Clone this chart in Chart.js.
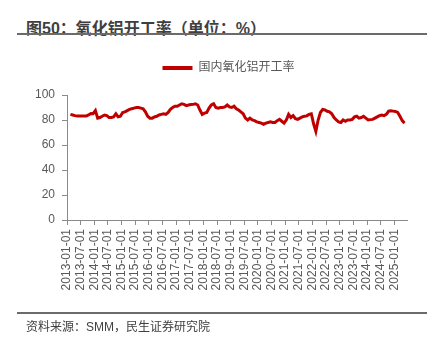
<!DOCTYPE html>
<html lang="zh-CN">
<head>
  <meta charset="UTF-8">
  <title>氧化铝开工率</title>
  <script src="https://cdn.jsdelivr.net/npm/chart.js"></script>
  <style>
    body { margin: 0; width: 441px; height: 346px; position: relative; background: #fff; overflow: hidden;
           font-family: "Liberation Sans", "Noto Sans CJK SC", sans-serif; }
    #title { position: absolute; left: 26px; top: 15px; font-size: 16px; font-weight: bold; color: #3f3f3f; white-space: nowrap; }
    .rule { position: absolute; left: 17px; width: 410px; height: 2px; background: #6b6b6b; }
    #source { position: absolute; left: 26px; top: 317px; font-size: 12px; color: #404040; white-space: nowrap; }
    canvas { position: absolute; left: 0; top: 0; }
  </style>
</head>
<body>
  <div id="title">图50：氧化铝开工率（单位：%）</div>
  <div class="rule" style="top:33px"></div>
  <canvas id="chart" width="441" height="346"></canvas>
  <div class="rule" style="top:312px"></div>
  <div id="source">资料来源：SMM，民生证券研究院</div>

  <script>
    // monthly readings, 2013-02 .. 2025-05
    const startYear = 2013, startMonth = 2;
    const seriesName = '国内氧化铝开工率';
    const rates = [
      84.5, 84, 83.5, 83.3, 83.3, 83.2, 83.3, 83.3, 84, 85.2, 85,
      87.5, 81.5, 82, 83, 84, 83.5, 82, 82, 82.5, 85, 82.5, 83,
      86, 86.5, 87.5, 88.5, 89, 89.5, 90, 90, 89.5, 89, 86.5, 83,
      81.5, 81.5, 82.5, 83, 84, 84.5, 85, 84.5, 86, 88.5, 90, 91,
      91, 92, 93, 92.5, 91.5, 92, 92.4, 92.5, 93, 92, 88, 84.5,
      85.5, 86, 89.5, 92, 93, 90, 89.5, 90, 90, 90.5, 92, 90.5,
      90, 91, 89, 88, 86.5, 85, 81.5, 80, 81.5, 80, 79.5, 78.5,
      78, 77.5, 76.5, 77.5, 78, 78.5, 78, 78, 79.5, 80.5, 79, 77.5,
      80, 84.5, 82, 83.5, 81, 80.5, 81.5, 82.5, 83, 83.3, 84.5, 85,
      77, 71, 80, 86, 88.5, 88, 87, 86.5, 85, 82, 80, 78.5,
      78, 80, 79, 80, 80, 80.5, 82.5, 83, 81.5, 82, 83, 81.5,
      80, 80.3, 80.5, 81.5, 82.5, 83.5, 84, 83.5, 84.5, 87, 87.3, 87.1,
      86.8, 86, 83, 79.5, 77.5
    ];
    const tickLabels = [
      '2013-01-01', '2013-07-01', '2014-01-01', '2014-07-01', '2015-01-01',
      '2015-07-01', '2016-01-01', '2016-07-01', '2017-01-01', '2017-07-01',
      '2018-01-01', '2018-07-01', '2019-01-01', '2019-07-01', '2020-01-01',
      '2020-07-01', '2021-01-01', '2021-07-01', '2022-01-01', '2022-07-01',
      '2023-01-01', '2023-07-01', '2024-01-01', '2024-07-01', '2025-01-01'
    ];
    const yTicks = [0, 20, 40, 60, 80, 100];

    // category months as "YYYY-MM"
    const months = rates.map((_, i) => {
      const n = startMonth - 1 + i;
      const y = startYear + Math.floor(n / 12);
      const m = n % 12 + 1;
      return y + '-' + String(m).padStart(2, '0');
    });

    // months since 2013-01, centred in the month
    function monthPos(s) {
      const [y, m] = s.split('-').map(Number);
      return (y - 2013) * 12 + (m - 1) + 0.5;
    }
    const points = months.map((m, i) => ({ x: monthPos(m), y: rates[i] }));
    const tickPos = tickLabels.map(monthPos).map(v => v - 0.5);

    // extra room under the legend, and nudge it right a bit
    const legendPlace = {
      id: 'legendPlace',
      beforeUpdate(chart) {
        const lg = chart.legend;
        if (lg && !lg._gap) {
          const fit = lg.fit.bind(lg);
          lg.fit = function () { fit(); this.height += 11; };
          lg._gap = true;
        }
      },
      afterLayout(chart) {
        const lg = chart.legend;
        if (lg) { lg.left += 15; lg.right += 15; }
      }
    };

    const axisGray = '#8a8a8a';
    Chart.defaults.font.family = '"Liberation Sans", "Noto Sans CJK SC", sans-serif';
    Chart.defaults.color = '#595959';

    new Chart(document.getElementById('chart'), {
      type: 'line',
      data: {
        datasets: [{
          label: seriesName,
          data: points,
          borderColor: '#C00000',
          backgroundColor: '#C00000',
          borderWidth: 3,
          pointRadius: 0,
          tension: 0
        }]
      },
      plugins: [legendPlace],
      options: {
        responsive: false,
        animation: false,
        layout: { padding: { top: 52, left: 20, right: 34, bottom: 0 } },
        plugins: {
          tooltip: { enabled: false },
          legend: {
            labels: {
              boxWidth: 30,
              boxHeight: 4,
              padding: 10,
              font: { size: 12 },
              color: '#595959',
              generateLabels: chart => Chart.defaults.plugins.legend.labels.generateLabels(chart)
                .map(item => Object.assign(item, { lineWidth: 0 }))
            }
          }
        },
        scales: {
          x: {
            type: 'linear',
            min: 0,
            max: 149.6,
            afterFit: s => { s.height = 126; },
            afterBuildTicks: s => { s.ticks = tickPos.map(v => ({ value: v })); },
            border: { color: axisGray, width: 1 },
            grid: { drawOnChartArea: false, color: axisGray, tickLength: 5 },
            ticks: {
              autoSkip: false,
              minRotation: 90,
              maxRotation: 90,
              padding: 4,
              font: { size: 12 },
              callback: v => tickLabels[tickPos.indexOf(v)]
            }
          },
          y: {
            min: 0,
            max: 100,
            afterFit: s => { s.width = 47; },
            afterBuildTicks: s => { s.ticks = yTicks.map(v => ({ value: v })); },
            border: { color: axisGray, width: 1 },
            grid: { drawOnChartArea: false, color: axisGray, tickLength: 5 },
            ticks: { padding: 7, font: { size: 12 } }
          }
        }
      }
    });
  </script>
</body>
</html>
